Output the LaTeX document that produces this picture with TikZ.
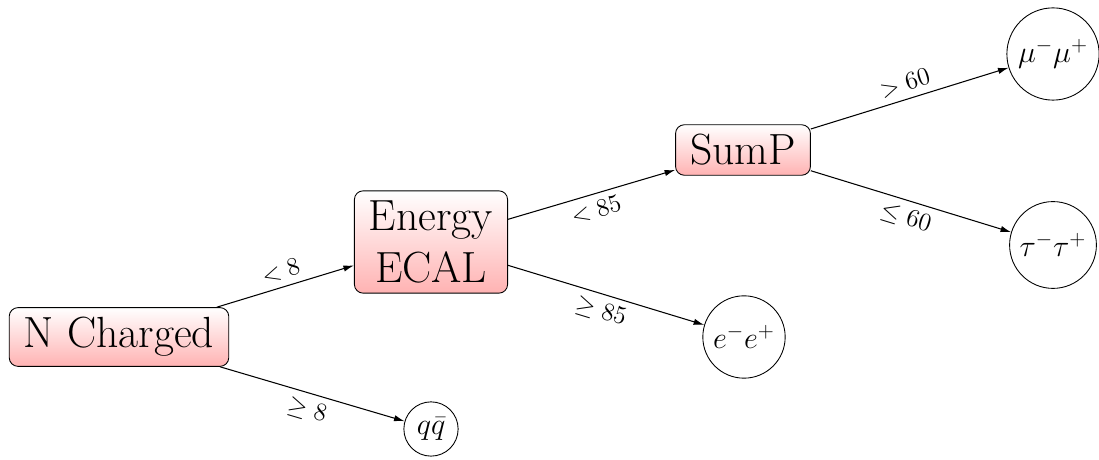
\documentclass[tikz,border=0pt]{standalone}
\usetikzlibrary{arrows.meta}
\begin{document}
\begin{tikzpicture}[x=0.57pt,y=-0.57pt,
  decision/.style={draw, rounded corners=5pt, top color=white, bottom color=red!30, font=\Huge, align=center, line width=0.5pt, inner xsep=8.3pt, inner ysep=5.5pt},
  leaf/.style={draw, circle, font=\LARGE, line width=0.5pt, inner sep=3.6pt},
  edge/.style={-{Latex[length=6pt,width=3.6pt]}, line width=0.6pt},
  lab/.style={font=\Large, sloped, inner sep=4pt}]
\useasboundingbox (0,0) rectangle (1099,460);
\node[decision] (nc) at (119,337) {N Charged};
\node[decision] (ee) at (431,242) {Energy\\ECAL};
\node[decision] (sp) at (743,150) {SumP};
\node[leaf] (mm) at (1053,54) {$\mu^-\mu^+$};
\node[leaf] (tt) at (1053,245) {$\tau^-\tau^+$};
\node[leaf] (el) at (744,337) {$e^-e^+$};
\node[leaf] (qq) at (431,429) {$q\bar{q}$};
\draw[edge] (nc) -- node[lab, above] {$<8$} (ee);
\draw[edge] (nc) -- node[lab, below] {$\geq 8$} (qq);
\draw[edge] (ee) -- node[lab, below] {$<85$} (sp);
\draw[edge] (ee) -- node[lab, below] {$\geq 85$} (el);
\draw[edge] (sp) -- node[lab, above] {$>60$} (mm);
\draw[edge] (sp) -- node[lab, below] {$\leq 60$} (tt);
\end{tikzpicture}
\end{document}
